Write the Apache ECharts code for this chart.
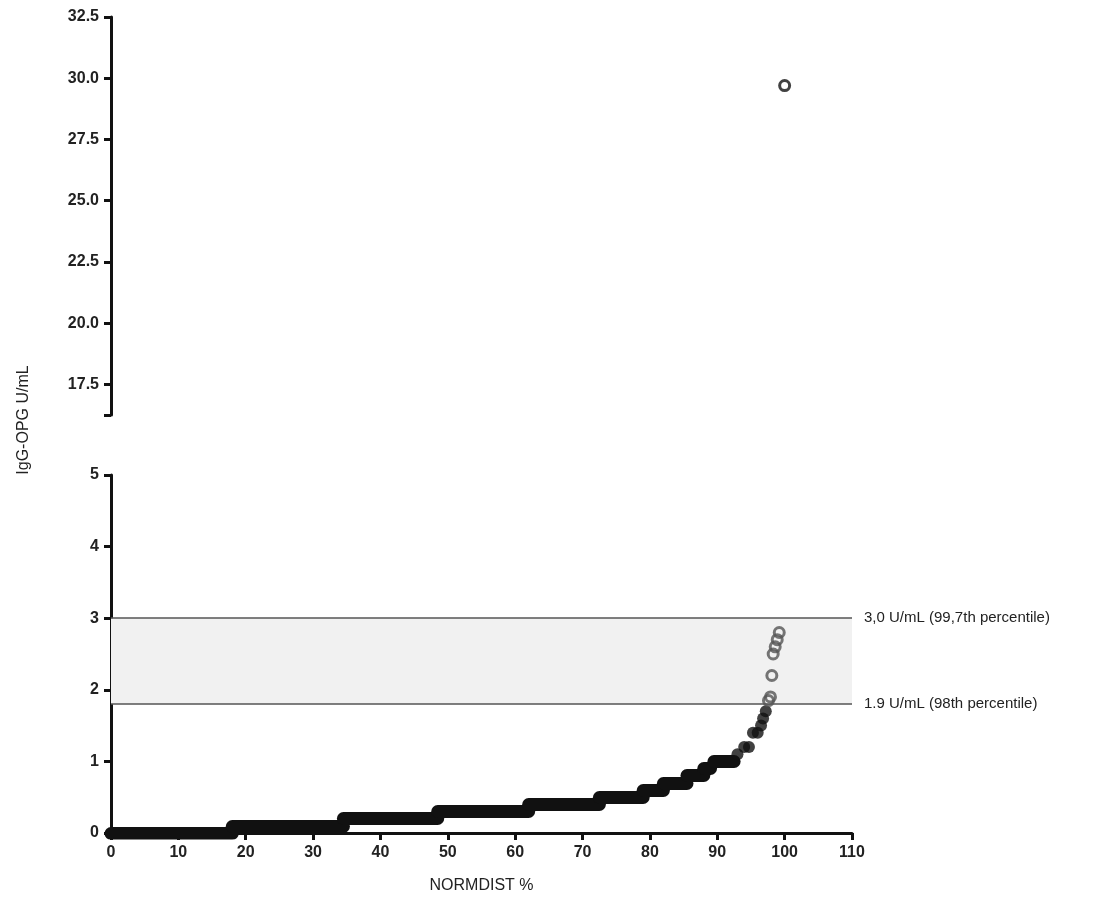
<!DOCTYPE html><html><head><meta charset="utf-8"><script src="https://cdn.jsdelivr.net/npm/echarts@6/dist/echarts.min.js"></script>
<style>body{margin:0}#c{width:1110px;height:905px}</style></head><body><div id="c"></div><script>
// step segments [xStart, xEnd, y]
const stepSegments=[[0,18,0],[18,34.5,0.1],[34.5,48.5,0.2],[48.5,62,0.3],[62,72.5,0.4],[72.5,79,0.5],[79,82,0.6],[82,85.5,0.7],[85.5,88,0.8],[88,89,0.9],[89.5,92.5,1.0]];
const tailPoints=[[93,1.1],[94,1.2],[94.7,1.2],[95.3,1.4],[96,1.4],[96.5,1.5],[96.8,1.6],[97.2,1.7]];
const grayPoints=[[97.6,1.85],[97.9,1.9],[98.1,2.2],[98.3,2.5],[98.6,2.6],[98.9,2.7],[99.2,2.8]];
const outliers=[[100,29.7]];
const topTicks=[16.25,17.5,20,22.5,25,27.5,30,32.5];
const refLines=[[3.0,'3,0 U/mL (99,7th percentile)'],[1.8,'1.9 U/mL (98th percentile)']];
const font={fontFamily:'Liberation Sans, Arial',color:'#222'};
const axisLine={show:true,lineStyle:{color:'#111',width:3}};
const chart=echarts.init(document.getElementById('c'));
chart.setOption({
 animation:false,
 grid:[{left:111,right:258,top:17,height:398},{left:111,right:258,top:475,height:358}],
 xAxis:[{gridIndex:0,min:0,max:110,show:false},
  {gridIndex:1,min:0,max:110,interval:10,axisLine:axisLine,axisTick:{length:7,lineStyle:{width:3,color:'#111'}},splitLine:{show:false},
   axisLabel:{...font,fontWeight:'bold',fontSize:16,margin:12},name:'NORMDIST %',nameLocation:'middle',nameGap:45,nameTextStyle:{...font,fontSize:16}}],
 yAxis:[{gridIndex:0,min:16.25,max:32.5,axisLine:axisLine,splitLine:{show:false},
   axisTick:{show:true,length:7,inside:false,customValues:topTicks,lineStyle:{width:3,color:'#111'}},
   axisLabel:{...font,fontWeight:'bold',fontSize:16,margin:12,customValues:topTicks.slice(1),formatter:v=>v.toFixed(1)}},
  {gridIndex:1,min:0,max:5,interval:1,axisLine:axisLine,splitLine:{show:false},axisTick:{length:7,lineStyle:{width:3,color:'#111'}},
   axisLabel:{...font,fontWeight:'bold',fontSize:16,margin:12}}],
 graphic:[{type:'text',rotation:Math.PI/2,x:24,y:420,style:{text:'IgG-OPG U/mL',font:'16px Liberation Sans, Arial',fill:'#222',align:'center',verticalAlign:'middle'}}],
 series:[
  {type:'lines',coordinateSystem:'cartesian2d',xAxisIndex:1,yAxisIndex:1,polyline:false,
   lineStyle:{color:'#111',width:13,cap:'round',opacity:1},
   data:stepSegments.map(s=>({coords:[[s[0],s[2]],[s[1],s[2]]]})),
   markArea:{silent:true,itemStyle:{color:'#f1f1f1'},data:[[{yAxis:1.8},{yAxis:3.0}]]},
   markLine:{silent:true,symbol:'none',lineStyle:{color:'#555',width:1.5,type:'solid'},
    label:{position:'end',distance:12,...font,fontSize:15,formatter:p=>p.name},
    data:refLines.map(r=>({yAxis:r[0],name:r[1]}))}},
  {type:'scatter',xAxisIndex:1,yAxisIndex:1,symbolSize:12,itemStyle:{color:'#111'},data:tailPoints},
  {type:'scatter',xAxisIndex:1,yAxisIndex:1,symbolSize:10,itemStyle:{color:'rgba(0,0,0,0)',borderColor:'#555',borderWidth:3},data:grayPoints},
  {type:'scatter',xAxisIndex:0,yAxisIndex:0,symbolSize:10,itemStyle:{color:'#fff',borderColor:'#111',borderWidth:3},data:outliers}
 ]});
</script></body></html>
